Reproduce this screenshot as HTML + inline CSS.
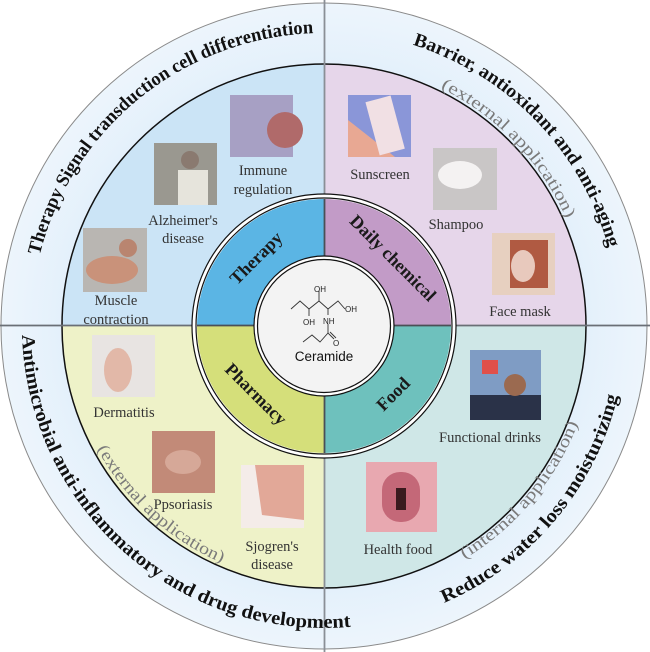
<!DOCTYPE html>
<html><head><meta charset="utf-8"><style>
html,body{margin:0;padding:0;background:#fff;}
svg{display:block;}
.o{font-family:"Liberation Serif",serif;font-weight:bold;font-size:19px;fill:#111;}
.g{font-family:"Liberation Serif",serif;font-size:17px;fill:#7a7a7a;}
.l{font-family:"Liberation Serif",serif;font-size:14.5px;fill:#333;text-anchor:middle;}
.r{font-family:"Liberation Serif",serif;font-weight:bold;font-size:18px;fill:#1a1a1a;text-anchor:middle;}
.c{font-family:"Liberation Sans",sans-serif;font-size:8px;fill:#222;}
</style></head><body>
<svg width="650" height="652" viewBox="0 0 650 652" xmlns="http://www.w3.org/2000/svg">
<defs>
<clipPath id="rr"><circle cx="324" cy="326" r="262"/></clipPath>
<path id="pTL" d="M31,326 A293 293 0 0 1 617,326"/>
<path id="pTR" d="M29,326 A295 295 0 0 1 619,326"/>
<path id="pBL" d="M22,326 A302 302 0 0 0 626,326"/>
<path id="pBR" d="M22,326 A302 302 0 0 0 626,326"/>
<path id="pGT" d="M59,326 A265 265 0 0 1 589,326"/>
<path id="pGBL" d="M66,326 A258 258 0 0 0 582,326"/>
<path id="pGBR" d="M52,326 A272 272 0 0 0 596,326"/>
<radialGradient id="ob" cx="50%" cy="50%" r="50%"><stop offset="80%" stop-color="#e3f0fb"/><stop offset="100%" stop-color="#edf5fc"/></radialGradient>
</defs>
<circle cx="324" cy="326" r="323" fill="url(#ob)" stroke="#8a8a8a" stroke-width="1"/>
<g clip-path="url(#rr)">
<rect x="0" y="0" width="324" height="326" fill="#cbe4f6"/>
<rect x="324" y="0" width="326" height="326" fill="#e6d6ea"/>
<rect x="0" y="326" width="324" height="326" fill="#eef2c8"/>
<rect x="324" y="326" width="326" height="326" fill="#cfe7e7"/>
</g>
<circle cx="324" cy="326" r="262" fill="none" stroke="#111" stroke-width="1.5"/>
<line x1="324.5" y1="0" x2="324.5" y2="652" stroke="#8a8f96" stroke-width="1.8"/>
<line x1="0" y1="325.5" x2="650" y2="325.5" stroke="#6a6f76" stroke-width="1.8"/>
<!-- inner ring -->
<circle cx="324" cy="326" r="132" fill="#fff" stroke="#111" stroke-width="1.2"/>
<path d="M324,326 L197,326 A127 127 0 0 1 324,199 Z" fill="#5bb5e4"/>
<path d="M324,326 L324,199 A127 127 0 0 1 451,326 Z" fill="#c29bc7"/>
<path d="M324,326 L451,326 A127 127 0 0 1 324,453 Z" fill="#6ec1bd"/>
<path d="M324,326 L324,453 A127 127 0 0 1 197,326 Z" fill="#d5df7a"/>
<circle cx="324" cy="326" r="128" fill="none" stroke="#111" stroke-width="1.2"/>
<line x1="324.5" y1="199" x2="324.5" y2="453" stroke="#4a4f56" stroke-width="1.8"/>
<line x1="197" y1="325.5" x2="451" y2="325.5" stroke="#4a4f56" stroke-width="1.8"/>
<circle cx="324" cy="326" r="70" fill="#fff" stroke="#111" stroke-width="1.2"/>
<circle cx="324" cy="326" r="66.5" fill="#f3f3f3" stroke="#111" stroke-width="1.2"/>
<text class="r" transform="translate(256,258) rotate(-45)" dy="6">Therapy</text>
<text class="r" transform="translate(393,258) rotate(45)" dy="6">Daily chemical</text>
<text class="r" transform="translate(256,394) rotate(45)" dy="6">Pharmacy</text>
<text class="r" transform="translate(393,394) rotate(-45)" dy="6">Food</text>
<!-- ceramide -->
<g stroke="#333" stroke-width="0.9" fill="none">
<polyline points="291,309 300,301 309,309 319,301 328,309 338,301 345,309"/>
<line x1="319" y1="301" x2="319" y2="291"/>
<line x1="309" y1="309" x2="309" y2="316"/>
<line x1="328" y1="309" x2="328" y2="315"/>
<line x1="328" y1="324" x2="328" y2="333"/>
<polyline points="303,342 312,335 320,342 328,333 334,339"/>
<line x1="330" y1="332" x2="336" y2="338"/>
</g>
<text class="c" x="314" y="292">OH</text>
<text class="c" x="345" y="312">OH</text>
<text class="c" x="303" y="325">OH</text>
<text class="c" x="323" y="324">NH</text>
<text class="c" x="333" y="346">O</text>
<text x="324" y="361" text-anchor="middle" style="font-family:'Liberation Sans',sans-serif;font-size:13.5px;fill:#111">Ceramide</text>
<!-- outer texts -->
<text class="o"><textPath href="#pTL" startOffset="28.3%" text-anchor="middle" textLength="378" lengthAdjust="spacingAndGlyphs">Therapy Signal transduction cell differentiation</textPath></text>
<text class="o"><textPath href="#pTR" startOffset="75.6%" text-anchor="middle" textLength="294" lengthAdjust="spacingAndGlyphs">Barrier, antioxidant and anti-aging</textPath></text>
<text class="o"><textPath href="#pBL" startOffset="26.9%" text-anchor="middle" textLength="492" lengthAdjust="spacingAndGlyphs">Antimicrobial anti-inflammatory and drug development</textPath></text>
<text class="o"><textPath href="#pBR" startOffset="77.8%" text-anchor="middle" textLength="280" lengthAdjust="spacingAndGlyphs">Reduce water loss moisturizing</textPath></text>
<text class="g"><textPath href="#pGT" startOffset="75.6%" text-anchor="middle" textLength="185" lengthAdjust="spacingAndGlyphs">(external application)</textPath></text>
<text class="g"><textPath href="#pGBL" startOffset="26.4%" text-anchor="middle" textLength="172" lengthAdjust="spacingAndGlyphs">(external application)</textPath></text>
<text class="g"><textPath href="#pGBR" startOffset="77.8%" text-anchor="middle" textLength="180" lengthAdjust="spacingAndGlyphs">(internal application)</textPath></text>
<!-- images -->
<rect x="230" y="95" width="63" height="62" fill="#a7a0c4"/><circle cx="285" cy="130" r="18" fill="#b06a6a"/>
<rect x="154" y="143" width="63" height="62" fill="#9a9890"/><rect x="178" y="170" width="30" height="35" fill="#e6e4dc"/><circle cx="190" cy="160" r="9" fill="#8a7a70"/>
<rect x="83" y="228" width="64" height="64" fill="#b9b6b2"/><ellipse cx="112" cy="270" rx="26" ry="14" fill="#c9927a"/><circle cx="128" cy="248" r="9" fill="#b98570"/>
<rect x="348" y="95" width="63" height="62" fill="#8a96d8"/><polygon points="348,120 395,157 348,157" fill="#e8a893"/><rect x="372" y="98" width="26" height="55" fill="#f1e0e4" transform="rotate(-15 385 125)"/>
<rect x="433" y="148" width="64" height="62" fill="#c9c6c6"/><ellipse cx="460" cy="175" rx="22" ry="14" fill="#f4f2f2"/>
<rect x="492" y="233" width="63" height="62" fill="#e7d0c0"/><rect x="510" y="240" width="38" height="48" fill="#b05a42"/><ellipse cx="523" cy="266" rx="12" ry="16" fill="#e8c9bd"/>
<rect x="92" y="335" width="63" height="62" fill="#e8e4e2"/><ellipse cx="118" cy="370" rx="14" ry="22" fill="#e2b8a8"/>
<rect x="152" y="431" width="63" height="62" fill="#c28a78"/><ellipse cx="183" cy="462" rx="18" ry="12" fill="#d6a898"/>
<rect x="241" y="465" width="63" height="63" fill="#f4ece9"/><path d="M255,465 L304,465 L304,520 L262,515 Z" fill="#e2a898"/>
<rect x="470" y="350" width="71" height="70" fill="#7f9cc4"/><rect x="470" y="395" width="71" height="25" fill="#2a3248"/><circle cx="515" cy="385" r="11" fill="#9b6a50"/><rect x="482" y="360" width="16" height="14" fill="#e0504a"/>
<rect x="366" y="462" width="71" height="70" fill="#e8a8b0"/><rect x="382" y="472" width="38" height="50" rx="18" fill="#c46878"/><rect x="396" y="488" width="10" height="22" fill="#3a1a1e"/>
<!-- labels -->
<text class="l" x="263" y="175">Immune</text><text class="l" x="263" y="194">regulation</text>
<text class="l" x="183" y="225">Alzheimer's</text><text class="l" x="183" y="243">disease</text>
<text class="l" x="116" y="305">Muscle</text><text class="l" x="116" y="324">contraction</text>
<text class="l" x="380" y="179">Sunscreen</text>
<text class="l" x="456" y="229">Shampoo</text>
<text class="l" x="520" y="316">Face mask</text>
<text class="l" x="124" y="417">Dermatitis</text>
<text class="l" x="183" y="509">Ppsoriasis</text>
<text class="l" x="272" y="551">Sjogren's</text><text class="l" x="272" y="569">disease</text>
<text class="l" x="490" y="442">Functional drinks</text>
<text class="l" x="398" y="554">Health food</text>
</svg>
</body></html>
